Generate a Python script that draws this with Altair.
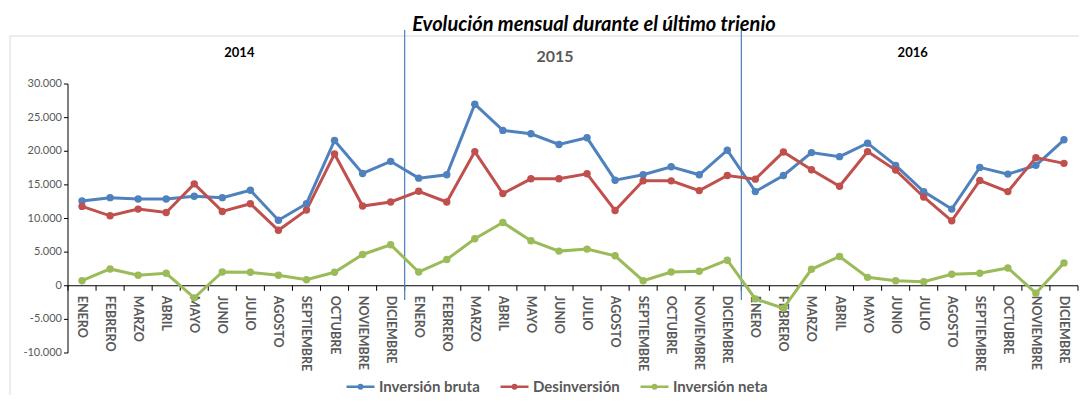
import altair as alt
import pandas as pd

# ---------------- data ----------------
months = ["ENERO", "FEBRERO", "MARZO", "ABRIL", "MAYO", "JUNIO", "JULIO",
          "AGOSTO", "SEPTIEMBRE", "OCTUBRE", "NOVIEMBRE", "DICIEMBRE"]
years = [2014, 2015, 2016]
series = ["Inversión bruta", "Desinversión", "Inversión neta"]
colors = ["#4f81bd", "#c0504d", "#9bbb59"]

bruta = [12600, 13100, 12900, 12900, 13300, 13100, 14200, 9750, 12200, 21600, 16700, 18500,
         16000, 16500, 27000, 23100, 22600, 21000, 22000, 15700, 16500, 17700, 16500, 20150,
         14000, 16400, 19800, 19200, 21200, 17900, 14000, 11400, 17600, 16600, 17900, 21700]
desinversion = [11800, 10400, 11400, 10900, 15150, 11050, 12200, 8250, 11250, 19600, 11850, 12450,
                14050, 12450, 19950, 13700, 15900, 15900, 16650, 11200, 15600, 15600, 14150, 16400,
                15850, 19900, 17250, 14800, 19950, 17200, 13200, 9650, 15650, 14000, 19050, 18200]
neta = [750, 2500, 1550, 1850, -1800, 2050, 2000, 1550, 900, 2000, 4650, 6100,
        2050, 3900, 7000, 9400, 6700, 5150, 5450, 4450, 750, 2050, 2150, 3800,
        -1950, -3350, 2450, 4350, 1250, 750, 600, 1700, 1850, 2650, -1100, 3400]

y_ticks = [-10000, -5000, 0, 5000, 10000, 15000, 20000, 25000, 30000]
title_text = "Evolución mensual durante el último trienio"

# ---------------- tables ----------------
# unique category keys per month of each year (zero-width spaces keep labels identical)
keys = [m + "\u200b" * k for k in range(len(years)) for m in months]
rows = []
for s, vals in zip(series, [bruta, desinversion, neta]):
    for i, v in enumerate(vals):
        rows.append({"mes": keys[i], "serie": s, "valor": v, "idx": i})
df = pd.DataFrame(rows)

xcat_df = pd.DataFrame({"mes": keys, "label": [months[i % 12] for i in range(len(keys))],
                        "z": 0})
sep_df = pd.DataFrame({"mes": [keys[12 * k] for k in range(1, len(years))]})
last_df = pd.DataFrame({"mes": [keys[-1]], "z": 0})
year_df = pd.DataFrame({"anio": [str(y) for y in years],
                        "mes": [keys[12 * k + 6] for k in range(len(years))]})
ytick_df = pd.DataFrame({"v": y_ticks,
                         "label": [f"{v:,}".replace(",", ".") for v in y_ticks]})
yrange_df = pd.DataFrame({"lo": [min(y_ticks)], "hi": [max(y_ticks)]})
one = pd.DataFrame({"a": [0]})

W, H = 1010, 269
xscale = alt.Scale(domain=keys, paddingInner=0, paddingOuter=0)
yscale = alt.Scale(domain=[y_ticks[0], y_ticks[-1]], nice=False, zero=False)

FONT = "Lato"
GREY = "#595959"

legend_path = ("M-1,0L1,0M-0.12,0A0.12,0.12,0,1,0,0.12,0"
               "A0.12,0.12,0,1,0,-0.12,0Z")

frame_top = alt.Chart(one).mark_rule(color="#d9d9d9", strokeWidth=1).encode(
    x=alt.value(-58), x2=alt.value(1030), y=alt.value(-48))
frame_left = alt.Chart(one).mark_rule(color="#d9d9d9", strokeWidth=1).encode(
    x=alt.value(-58), y=alt.value(-48), y2=alt.value(330))

# ----- y axis (drawn from y_ticks through the y scale) -----
y_domain = alt.Chart(yrange_df).mark_rule(color="black", strokeWidth=1).encode(
    x=alt.value(0),
    y=alt.Y("hi:Q", scale=yscale, axis=None), y2="lo:Q")
y_tickmarks = alt.Chart(ytick_df).mark_rule(color="black", strokeWidth=1).encode(
    x=alt.value(-4), x2=alt.value(0),
    y=alt.Y("v:Q", scale=yscale, axis=None))
y_labels = alt.Chart(ytick_df).mark_text(
    font=FONT, fontSize=11, color=GREY, align="right", baseline="middle").encode(
    x=alt.value(-6), y=alt.Y("v:Q", scale=yscale, axis=None), text="label:N")

# ----- x axis at value 0 -----
x_domain = alt.Chart(yrange_df).mark_rule(color="black", strokeWidth=1).encode(
    x=alt.value(0), x2=alt.value(W),
    y=alt.Y("z:Q", scale=yscale, axis=None)).transform_calculate(z="0")
x_ticks = alt.Chart(xcat_df).mark_rule(color="black", strokeWidth=1).encode(
    x=alt.X("mes:N", scale=xscale, axis=None, bandPosition=0),
    y=alt.Y("z:Q", scale=yscale, axis=None),
    y2="lo:Q").transform_calculate(lo="-750")
x_tick_last = alt.Chart(last_df).mark_rule(color="black", strokeWidth=1).encode(
    x=alt.X("mes:N", scale=xscale, axis=None, bandPosition=1),
    y=alt.Y("z:Q", scale=yscale, axis=None),
    y2="lo:Q").transform_calculate(lo="-750")
x_labels = alt.Chart(xcat_df).mark_text(
    font=FONT, fontSize=12.5, fontWeight="bold", color=GREY, angle=90,
    align="left", baseline="middle", dx=10).encode(
    x=alt.X("mes:N", scale=xscale, axis=None),
    y=alt.Y("z:Q", scale=yscale, axis=None), text="label:N")

separators = alt.Chart(sep_df).mark_rule(color="#4a7ebb", strokeWidth=1.2).encode(
    x=alt.X("mes:N", scale=xscale, axis=None, bandPosition=0),
    y=alt.value(-54), y2=alt.value(216))

lines = alt.Chart(df).mark_line(strokeWidth=3).encode(
    x=alt.X("mes:N", scale=xscale, sort=None, axis=None),
    y=alt.Y("valor:Q", scale=yscale, axis=None),
    color=alt.Color(
        "serie:N", scale=alt.Scale(domain=series, range=colors),
        legend=alt.Legend(
            orient="none", legendX=277, legendY=287, direction="horizontal", title=None,
            symbolType=legend_path, symbolSize=784, symbolStrokeWidth=2.5,
            labelFont=FONT, labelFontSize=15, labelFontWeight="bold", labelColor=GREY,
            labelOffset=3, columnPadding=15, padding=0)),
    order="idx:Q",
)

points = alt.Chart(df).mark_circle(size=55, opacity=1).encode(
    x=alt.X("mes:N", scale=xscale, axis=None),
    y=alt.Y("valor:Q", scale=yscale, axis=None),
    color=alt.Color("serie:N", scale=alt.Scale(domain=series, range=colors), legend=None),
)

year_black = alt.Chart(year_df).transform_filter("datum.anio != '2015'").mark_text(
    font=FONT, fontSize=13, fontWeight="bold", color="black", baseline="middle",
    dx=3).encode(
    x=alt.X("mes:N", scale=xscale, axis=None, bandPosition=0),
    y=alt.value(-31), text="anio:N")

year_grey = alt.Chart(year_df).transform_filter("datum.anio == '2015'").mark_text(
    font=FONT, fontSize=16, fontWeight="bold", color=GREY, baseline="middle",
    dx=-18).encode(
    x=alt.X("mes:N", scale=xscale, axis=None, bandPosition=0),
    y=alt.value(-27), text="anio:N")

title = alt.Chart(pd.DataFrame({"t": [title_text]})).mark_text(
    font=FONT, fontSize=20, fontWeight="bold", fontStyle="italic", color="black",
    align="center", baseline="middle").encode(
    x=alt.value(526), y=alt.value(-59), text="t:N")

chart = alt.layer(frame_top, frame_left, y_domain, y_tickmarks, y_labels,
                  x_domain, x_ticks, x_tick_last, x_labels, separators,
                  lines, points, year_black, year_grey, title).properties(
    width=W, height=H,
    padding={"left": 60, "top": 76, "right": 1, "bottom": 42},
    autosize=alt.AutoSizeParams(type="none"),
).configure(font=FONT).configure_view(strokeWidth=0)

chart.save("out.html", embed_options={"renderer": "svg", "actions": False})
